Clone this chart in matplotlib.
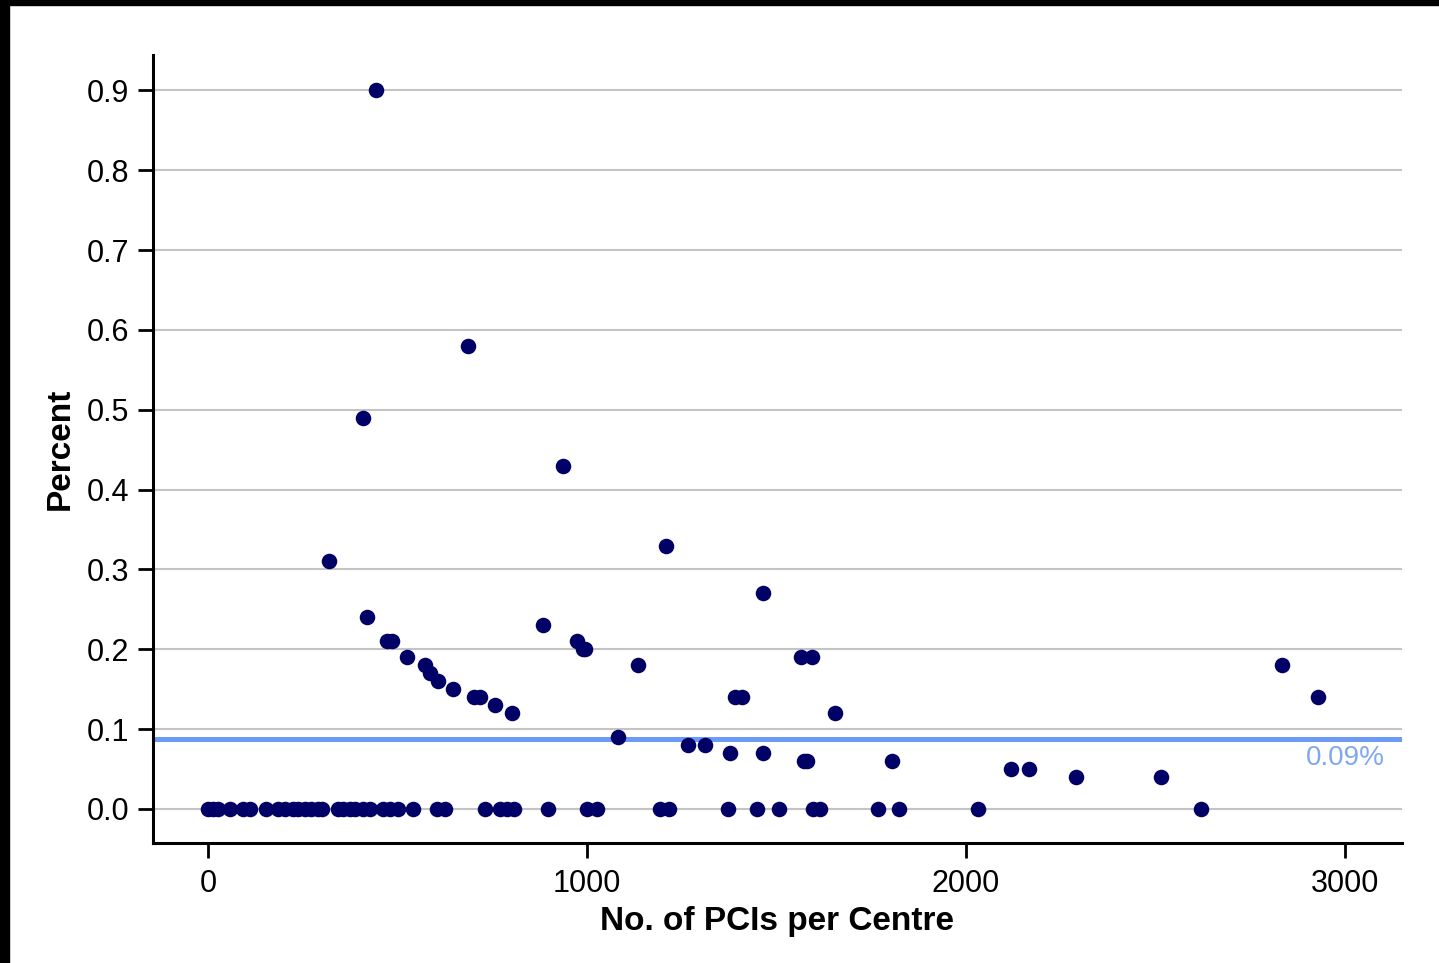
import numpy as np
import matplotlib.pyplot as plt
from matplotlib.patches import Rectangle

# PCIs per centre vs. percent
zero_x = [0, 13, 26, 58, 92, 111, 153, 185, 203, 224, 237, 256, 272, 290, 301,
          343, 356, 375, 388, 409, 427, 462, 480, 501, 541, 604, 625, 731, 770,
          789, 807, 897, 1000, 1026, 1193, 1216, 1372, 1449, 1507, 1596, 1615,
          1768, 1823, 2032, 2620]
pos_x = [443, 686, 409, 937, 1208, 319, 1464, 420, 884, 472, 485, 974, 989, 995,
         525, 1565, 1594, 573, 1135, 2834, 586, 607, 646, 702, 718, 1390, 1409,
         2929, 757, 802, 1654, 1082, 1266, 1311, 1377, 1464, 1573, 1580, 1805,
         2119, 2166, 2290, 2515]
pos_y = [0.90, 0.58, 0.49, 0.43, 0.33, 0.31, 0.27, 0.24, 0.23, 0.21, 0.21, 0.21,
         0.20, 0.20, 0.19, 0.19, 0.19, 0.18, 0.18, 0.18, 0.17, 0.16, 0.15, 0.14,
         0.14, 0.14, 0.14, 0.14, 0.13, 0.12, 0.12, 0.09, 0.08, 0.08, 0.07, 0.07,
         0.06, 0.06, 0.06, 0.05, 0.05, 0.04, 0.04]
overall = 0.0876
overall_label = "0.09%"

x = np.array(zero_x + pos_x)
y = np.array([0.0] * len(zero_x) + pos_y)

plt.rcParams['font.family'] = ['Liberation Sans', 'DejaVu Sans']

fig = plt.figure(figsize=(14.39, 9.63), dpi=100)
ax = fig.add_axes([0.1063, 0.1246, 0.868, 0.818])

# black border strips at top and left edge
fig.patches.append(Rectangle((0, 1 - 5 / 963), 1, 5 / 963, transform=fig.transFigure,
                             color='black', zorder=0))
fig.patches.append(Rectangle((0, 0), 9 / 1439, 1, transform=fig.transFigure,
                             color='black', zorder=0))

ax.set_yticks(np.arange(0, 0.91, 0.1))
ax.yaxis.grid(True, color='#c4c4c4', linewidth=1.5)
ax.set_axisbelow(True)
ax.axhline(overall, color='#6b9bf5', linewidth=3.6, zorder=2)
ax.scatter(x, y, s=125, color='#000066', zorder=3, linewidths=0)
ax.text(3000, overall - 0.008, overall_label, color='#7fa8f2', fontsize=20,
        ha='center', va='top')

ax.set_xlim(-145, 3150)
ax.set_ylim(-0.0426, 0.944)
ax.set_xticks([0, 1000, 2000, 3000])
ax.set_yticklabels([f"{v:.1f}" for v in np.arange(0, 0.91, 0.1)])

for s in ['top', 'right']:
    ax.spines[s].set_visible(False)
for s in ['left', 'bottom']:
    ax.spines[s].set_linewidth(2.2)
ax.tick_params(axis='both', labelsize=22, length=11, width=2)
ax.tick_params(axis='y', pad=6)
ax.tick_params(axis='x', pad=8)

ax.set_xlabel('No. of PCIs per Centre', fontsize=24, fontweight='bold', labelpad=5)
ax.set_ylabel('Percent', fontsize=24, fontweight='bold', labelpad=8)

fig.savefig('out.png', dpi=100)
